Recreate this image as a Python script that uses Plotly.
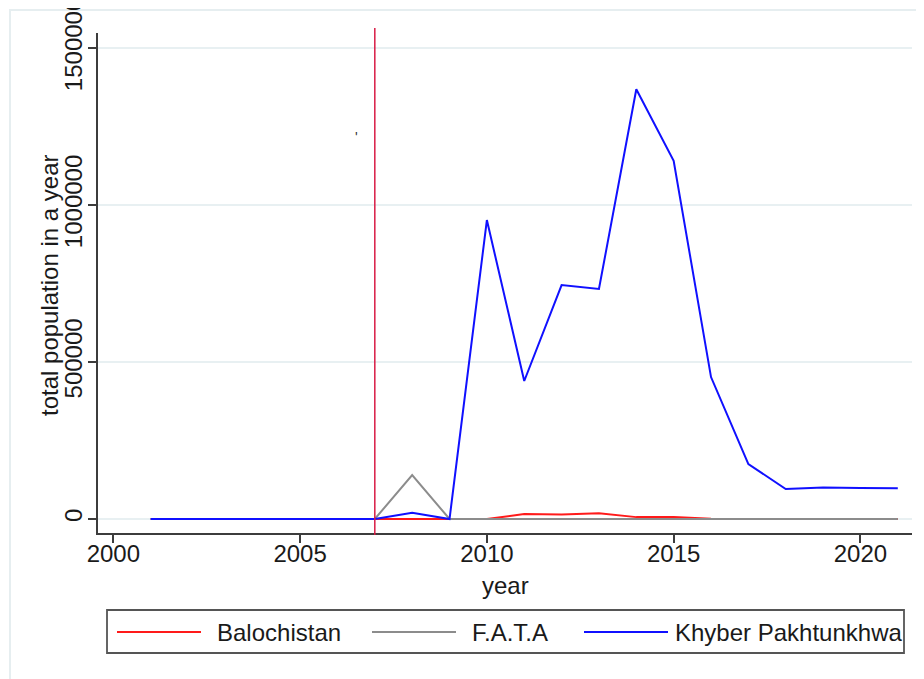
import plotly.graph_objects as go

years = list(range(2001, 2022))
balochistan = [0, 0, 0, 0, 0, 0, 0, 0, 0, 0, 15900, 14000, 18000, 6000, 6000, 1000, 0, 0, 0, 0, 0]
fata = [0, 0, 0, 0, 0, 0, 0, 140000, 0, 0, 0, 0, 0, 0, 0, 0, 0, 0, 0, 0, 0]
kp = [0, 0, 0, 0, 0, 0, 0, 20000, 0, 952000, 439500, 745000, 732500, 1368500, 1141000, 452000, 175000, 95500, 100000, 98700, 98000]

series_names = ["Balochistan", "F.A.T.A", "Khyber Pakhtunkhwa"]
series_values = [balochistan, fata, kp]
series_colors = ["#ff1a1a", "#8c8c8c", "#1010ff"]

x_ticks = [2000, 2005, 2010, 2015, 2020]
y_ticks = [0, 500000, 1000000, 1500000]
y_ticklabels = ["0", "500000", "1000000", "1500000"]

event_year = 2007

FONT = "Liberation Sans, Arial, sans-serif"
AX = "#3c3c3c"
GRID = "#e8f0f2"
FS = 24

fig = go.Figure()
for name, vals, col in zip(series_names, series_values, series_colors):
    fig.add_trace(go.Scatter(x=years, y=vals, mode="lines", name=name,
                             line=dict(color=col, width=2), showlegend=False))

OFF = 8  # page body margin
W, H = 916, 671
L, R, T, B = 90, 12, 25, 146
pw, ph = W - L - R, H - T - B


def px_x(p):
    return (p - OFF - L) / pw


def px_y(p):
    return (H - B - (p - OFF)) / ph


shapes = []
# outer light frame
shapes.append(dict(type="rect", xref="paper", yref="paper",
                   x0=px_x(10), x1=px_x(940), y0=px_y(700), y1=px_y(10),
                   line=dict(color="#e6eef0", width=2), fillcolor="rgba(0,0,0,0)", layer="below"))
# event line
shapes.append(dict(type="line", xref="x", yref="paper", x0=event_year, x1=event_year,
                   y0=px_y(535), y1=px_y(28), line=dict(color="#d81b45", width=1.5)))
# custom legend box
shapes.append(dict(type="rect", xref="paper", yref="paper",
                   x0=px_x(107), x1=px_x(904), y0=px_y(653), y1=px_y(610),
                   line=dict(color="#555555", width=1.8), fillcolor="white"))
leg_lines = [(117, 201), (372, 456), (584, 668)]
leg_text_x = [215, 470, 673]
annotations = []
for (a, b), tx, name, col in zip(leg_lines, leg_text_x, series_names, series_colors):
    shapes.append(dict(type="line", xref="paper", yref="paper",
                       x0=px_x(a), x1=px_x(b), y0=px_y(632), y1=px_y(632),
                       line=dict(color=col, width=2)))
    annotations.append(dict(xref="paper", yref="paper", x=px_x(tx), y=px_y(632),
                            text=name, showarrow=False, xanchor="left", yanchor="middle",
                            font=dict(family=FONT, size=FS, color="#1a1a1a")))

# axis titles
annotations.append(dict(xref="paper", yref="paper", x=px_x(49), y=px_y(285),
                        text="total population in a year", textangle=-90, showarrow=False,
                        xanchor="center", yanchor="middle",
                        font=dict(family=FONT, size=FS, color="#1a1a1a")))
annotations.append(dict(xref="paper", yref="paper", x=px_x(505), y=px_y(585),
                        text="year", showarrow=False, xanchor="center", yanchor="middle",
                        font=dict(family=FONT, size=FS, color="#1a1a1a")))

# small stray mark
annotations.append(dict(x=2006.52, y=1216000, xref="x", yref="y", text="'", showarrow=False,
                        font=dict(family=FONT, size=14, color="#333333")))

fig.update_layout(
    width=W, height=H,
    margin=dict(l=L, r=R, t=T, b=B, autoexpand=False),
    paper_bgcolor="white", plot_bgcolor="white",
    font=dict(family=FONT, size=FS, color="#1a1a1a"),
    shapes=shapes, annotations=annotations,
    showlegend=False,
)
fig.update_xaxes(range=[1999.59, 2021.38], tickvals=x_ticks, ticks="outside", ticklen=8,
                 tickwidth=1.5, tickcolor=AX, showline=True, linecolor=AX, linewidth=1.5,
                 showgrid=False, zeroline=False, automargin=False, ticklabelstandoff=-10,
                 ticklabeloverflow="allow", tickfont=dict(size=FS))
fig.update_yaxes(range=[-44586, 1547771], tickvals=y_ticks, ticktext=y_ticklabels,
                 tickangle=-90, ticks="outside", ticklen=8, tickwidth=1.5, tickcolor=AX,
                 showline=True, linecolor=AX, linewidth=1.5, showgrid=True, gridcolor=GRID,
                 gridwidth=1.5, zeroline=False, automargin=False, ticklabelstandoff=-3,
                 ticklabeloverflow="allow", tickfont=dict(size=FS))

fig.write_html("out.html")
